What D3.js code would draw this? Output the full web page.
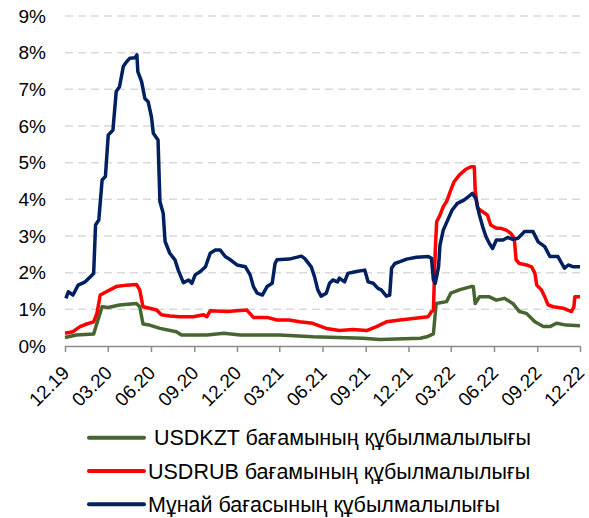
<!DOCTYPE html>
<html>
<head>
<meta charset="utf-8">
<script src="https://cdn.jsdelivr.net/npm/d3@7"></script>
<style>
    body { margin: 0; background: #fff; }
    text { font-family: "Liberation Sans", Arial, sans-serif; fill: #000; }
</style>
</head>
<body>
<div id="chart"></div>
<script>

// volatility, % (date, value)
const kztData = [
    ["2019-12-01", 0.23], ["2019-12-25", 0.30], ["2020-01-31", 0.33], ["2020-02-07", 0.62],
    ["2020-02-18", 1.07], ["2020-03-02", 1.05], ["2020-03-26", 1.12], ["2020-05-01", 1.16],
    ["2020-05-08", 1.07], ["2020-05-15", 0.60], ["2020-05-29", 0.57], ["2020-06-20", 0.48],
    ["2020-07-25", 0.39], ["2020-08-05", 0.30], ["2020-09-28", 0.30], ["2020-11-03", 0.35],
    ["2020-12-08", 0.30], ["2021-03-02", 0.30], ["2021-05-11", 0.25], ["2021-08-26", 0.21],
    ["2021-10-01", 0.18], ["2021-12-26", 0.21], ["2022-01-09", 0.25], ["2022-01-23", 0.33],
    ["2022-01-29", 1.16], ["2022-02-20", 1.21], ["2022-03-01", 1.44], ["2022-03-19", 1.53],
    ["2022-04-13", 1.62], ["2022-04-18", 1.62], ["2022-04-22", 1.16], ["2022-05-01", 1.34],
    ["2022-05-22", 1.34], ["2022-06-06", 1.25], ["2022-06-23", 1.30], ["2022-07-11", 1.16],
    ["2022-07-25", 0.94], ["2022-08-09", 0.89], ["2022-08-27", 0.66], ["2022-09-14", 0.53],
    ["2022-09-28", 0.53], ["2022-10-12", 0.62], ["2022-11-02", 0.57], ["2022-12-01", 0.55]
];

const rubData = [
    ["2019-12-01", 0.35], ["2019-12-18", 0.39], ["2020-01-02", 0.53], ["2020-01-16", 0.60],
    ["2020-01-31", 0.66], ["2020-02-07", 0.89], ["2020-02-14", 1.39], ["2020-02-27", 1.48],
    ["2020-03-19", 1.62], ["2020-04-10", 1.66], ["2020-05-01", 1.68], ["2020-05-08", 1.53],
    ["2020-05-15", 1.07], ["2020-05-29", 1.03], ["2020-06-13", 0.98], ["2020-06-23", 0.85],
    ["2020-07-11", 0.82], ["2020-08-02", 0.80], ["2020-08-30", 0.80], ["2020-09-21", 0.85],
    ["2020-09-28", 0.80], ["2020-10-05", 0.96], ["2020-11-10", 0.94], ["2020-12-22", 0.98],
    ["2021-01-05", 0.78], ["2021-02-03", 0.78], ["2021-02-24", 0.71], ["2021-03-22", 0.71],
    ["2021-04-13", 0.66], ["2021-05-11", 0.62], ["2021-06-09", 0.48], ["2021-07-07", 0.42],
    ["2021-08-05", 0.45], ["2021-09-03", 0.42], ["2021-09-24", 0.53], ["2021-10-15", 0.66],
    ["2021-11-13", 0.71], ["2021-12-11", 0.75], ["2022-01-12", 0.80], ["2022-01-19", 0.94],
    ["2022-01-23", 0.98], ["2022-01-27", 2.62], ["2022-01-30", 3.39], ["2022-02-06", 3.57],
    ["2022-02-13", 3.80], ["2022-02-20", 3.94], ["2022-03-01", 4.25], ["2022-03-08", 4.48],
    ["2022-03-19", 4.66], ["2022-04-02", 4.82], ["2022-04-13", 4.89], ["2022-04-20", 4.89],
    ["2022-04-22", 4.25], ["2022-04-27", 3.76], ["2022-05-08", 3.66], ["2022-05-18", 3.57],
    ["2022-05-25", 3.30], ["2022-06-06", 3.21], ["2022-06-16", 3.21], ["2022-06-27", 3.16],
    ["2022-07-07", 3.07], ["2022-07-14", 2.94], ["2022-07-18", 2.35], ["2022-07-25", 2.25],
    ["2022-08-09", 2.21], ["2022-08-20", 2.16], ["2022-08-27", 1.98], ["2022-08-31", 1.66],
    ["2022-09-10", 1.53], ["2022-09-17", 1.34], ["2022-09-24", 1.12], ["2022-10-05", 1.07],
    ["2022-10-26", 1.03], ["2022-11-13", 0.94], ["2022-11-18", 1.07], ["2022-11-20", 1.34],
    ["2022-12-01", 1.34]
];

const oilData = [
    ["2019-12-03", 1.30], ["2019-12-08", 1.48], ["2019-12-18", 1.39], ["2019-12-29", 1.66],
    ["2020-01-13", 1.75], ["2020-01-24", 1.89], ["2020-01-31", 1.98], ["2020-02-04", 3.30],
    ["2020-02-11", 3.44], ["2020-02-18", 4.53], ["2020-02-25", 4.62], ["2020-03-02", 5.75],
    ["2020-03-12", 5.89], ["2020-03-19", 6.94], ["2020-03-26", 7.07], ["2020-04-03", 7.62],
    ["2020-04-10", 7.75], ["2020-04-17", 7.85], ["2020-04-28", 7.86], ["2020-05-02", 7.94],
    ["2020-05-04", 7.48], ["2020-05-12", 7.21], ["2020-05-19", 6.75], ["2020-05-26", 6.66],
    ["2020-06-02", 6.25], ["2020-06-06", 5.80], ["2020-06-16", 5.62], ["2020-06-20", 3.94],
    ["2020-06-27", 3.62], ["2020-07-01", 2.85], ["2020-07-11", 2.53], ["2020-07-22", 2.35],
    ["2020-07-29", 2.07], ["2020-08-09", 1.73], ["2020-08-20", 1.80], ["2020-08-27", 1.71],
    ["2020-09-03", 1.94], ["2020-09-14", 2.03], ["2020-09-25", 2.16], ["2020-10-05", 2.53],
    ["2020-10-16", 2.62], ["2020-10-26", 2.62], ["2020-11-06", 2.44], ["2020-11-17", 2.35],
    ["2020-12-01", 2.21], ["2020-12-19", 2.16], ["2020-12-29", 1.94], ["2021-01-05", 1.62],
    ["2021-01-13", 1.44], ["2021-01-24", 1.39], ["2021-02-03", 1.62], ["2021-02-14", 1.71],
    ["2021-02-20", 2.25], ["2021-02-24", 2.35], ["2021-03-22", 2.37], ["2021-04-17", 2.45],
    ["2021-04-24", 2.39], ["2021-05-08", 2.16], ["2021-05-15", 1.89], ["2021-05-22", 1.53],
    ["2021-05-29", 1.36], ["2021-06-09", 1.44], ["2021-06-16", 1.71], ["2021-06-23", 1.80],
    ["2021-07-03", 1.75], ["2021-07-07", 1.85], ["2021-07-18", 1.75], ["2021-07-25", 1.98],
    ["2021-08-12", 2.03], ["2021-08-30", 2.07], ["2021-09-06", 1.75], ["2021-09-17", 1.71],
    ["2021-09-27", 1.57], ["2021-10-04", 1.53], ["2021-10-15", 1.36], ["2021-10-22", 1.39],
    ["2021-10-26", 2.12], ["2021-11-02", 2.25], ["2021-11-13", 2.30], ["2021-11-27", 2.37],
    ["2021-12-18", 2.42], ["2022-01-12", 2.44], ["2022-01-19", 2.39], ["2022-01-23", 1.80],
    ["2022-01-27", 1.71], ["2022-02-03", 2.16], ["2022-02-06", 2.75], ["2022-02-13", 3.16],
    ["2022-02-24", 3.48], ["2022-03-04", 3.71], ["2022-03-15", 3.89], ["2022-03-29", 3.98],
    ["2022-04-09", 4.09], ["2022-04-16", 4.16], ["2022-04-23", 4.03], ["2022-05-01", 3.57],
    ["2022-05-08", 3.25], ["2022-05-15", 2.98], ["2022-05-22", 2.80], ["2022-05-29", 2.66],
    ["2022-06-06", 2.89], ["2022-06-20", 2.89], ["2022-06-30", 2.96], ["2022-07-11", 2.91],
    ["2022-07-22", 2.94], ["2022-08-05", 3.12], ["2022-08-23", 3.12], ["2022-09-03", 2.84],
    ["2022-09-17", 2.71], ["2022-09-28", 2.44], ["2022-10-15", 2.44], ["2022-10-29", 2.12],
    ["2022-11-06", 2.21], ["2022-11-17", 2.16], ["2022-12-01", 2.16]
];

const seriesNames = [" USDKZT бағамының құбылмалылығы", "USDRUB бағамының құбылмалылығы", "Мұнай бағасының құбылмалылығы"];
const seriesColors = ["#466530", "#ff0000", "#002060"];
const yTicks = [0, 1, 2, 3, 4, 5, 6, 7, 8, 9];
const xTickDates = ["2019-12-01", "2020-03-01", "2020-06-01", "2020-09-01", "2020-12-01", "2021-03-01",
    "2021-06-01", "2021-09-01", "2021-12-01", "2022-03-01", "2022-06-01", "2022-09-01", "2022-12-01"];

const parseDate = d3.timeParse("%Y-%m-%d");
const fmtDate = d3.timeFormat("%m.%y");

const width = 589, height = 518;
const margin = {top: 16, right: 9, bottom: 172, left: 65};
const innerW = width - margin.left - margin.right;
const innerH = height - margin.top - margin.bottom;

const svg = d3.select("#chart").append("svg")
    .attr("width", width)
    .attr("height", height);

const g = svg.append("g")
    .attr("transform", `translate(${margin.left}, ${margin.top})`);

const x = d3.scaleTime()
    .domain([parseDate("2019-12-01"), parseDate("2022-12-01")])
    .range([0, innerW]);

const y = d3.scaleLinear()
    .domain([0, 9])
    .range([innerH, 0]);

// dashed gridlines
g.selectAll(".grid")
    .data(yTicks.filter(d => d > 0))
    .enter()
    .append("line")
    .attr("x1", 0)
    .attr("x2", innerW)
    .attr("y1", d => y(d))
    .attr("y2", d => y(d))
    .attr("stroke", "#d9d9d9")
    .attr("stroke-width", 1.5)
    .attr("stroke-dasharray", "8,5");

// y labels
g.selectAll(".ylab")
    .data(yTicks)
    .enter()
    .append("text")
    .attr("x", -19)
    .attr("y", d => y(d))
    .attr("dy", "0.35em")
    .attr("text-anchor", "end")
    .attr("font-size", 19)
    .text(d => d + "%");

// x axis
const xAxis = g.append("g")
    .attr("transform", `translate(0, ${innerH})`)
    .call(d3.axisBottom(x)
        .tickValues(xTickDates.map(parseDate))
        .tickSize(6)
        .tickSizeOuter(0)
        .tickFormat(fmtDate));

xAxis.select(".domain").attr("stroke", "#8c8c8c").attr("stroke-width", 1.5);
xAxis.selectAll(".tick line").attr("stroke", "#8c8c8c").attr("stroke-width", 1.5);
xAxis.selectAll(".tick text")
    .attr("font-size", 19)
    .attr("font-family", "Liberation Sans, Arial, sans-serif")
    .attr("fill", "#000")
    .attr("text-anchor", "end")
    .attr("transform", "translate(5, 28) rotate(-45)")
    .attr("dy", 0)
    .attr("y", 0)
    .attr("x", 0);

// lines
const line = d3.line()
    .x(d => x(parseDate(d[0])))
    .y(d => y(d[1]));

[kztData, rubData, oilData].forEach((s, i) => {
    g.append("path")
        .datum(s)
        .attr("fill", "none")
        .attr("stroke", seriesColors[i])
        .attr("stroke-width", 3.5)
        .attr("stroke-linejoin", "round")
        .attr("d", line);
});

// legend
const legend = svg.append("g");
seriesNames.forEach((name, i) => {
    let ly = 437.7 + i * 33.3;
    legend.append("line")
        .attr("x1", 89)
        .attr("x2", 144)
        .attr("y1", ly)
        .attr("y2", ly)
        .attr("stroke", seriesColors[i])
        .attr("stroke-width", 4)
        .attr("stroke-linecap", "round");
    legend.append("text")
        .attr("x", 148)
        .attr("y", ly + 7.5)
        .attr("font-size", 21.5)
        .attr("xml:space", "preserve")
        .style("white-space", "pre")
        .text(name);
});

</script>
</body>
</html>
